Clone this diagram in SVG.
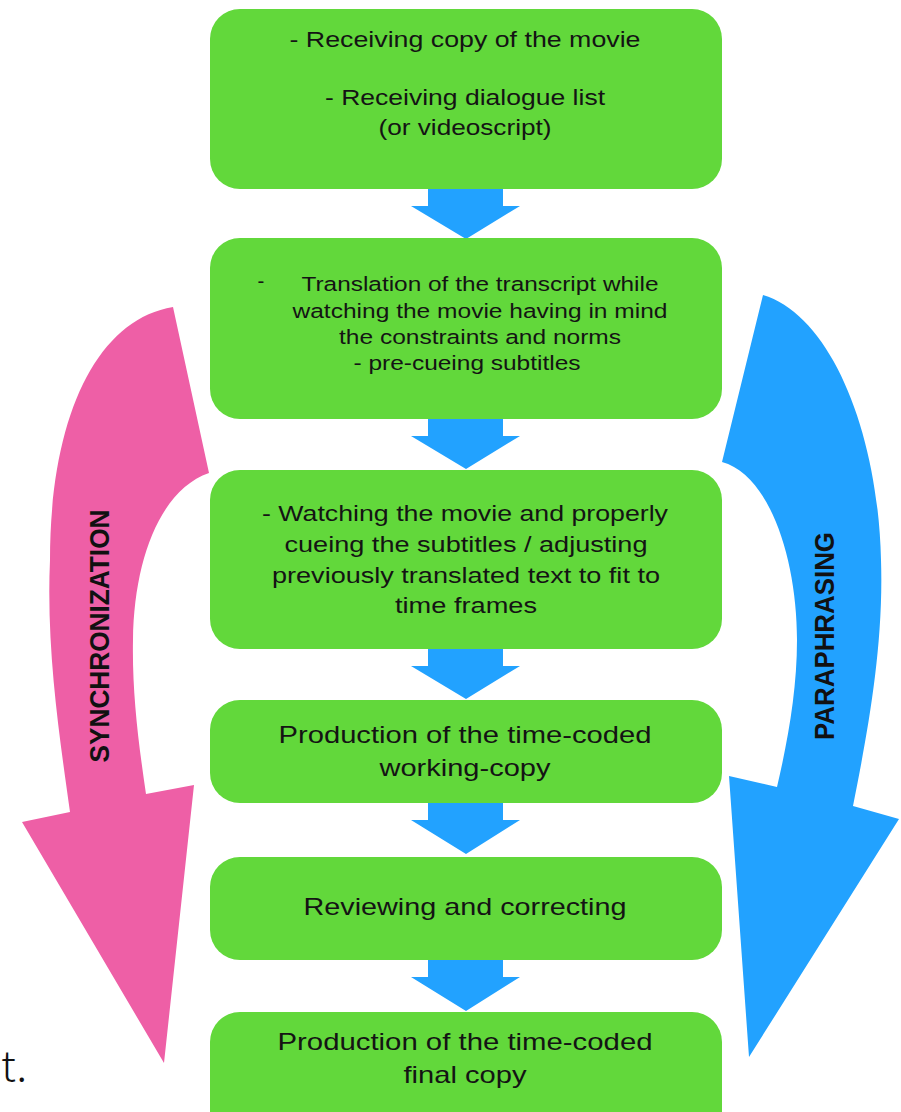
<svg xmlns="http://www.w3.org/2000/svg" width="901" height="1112" viewBox="0 0 901 1112">
<style>
.box{fill:#62d83b}
.t{font-family:"Liberation Sans",Arial,sans-serif;fill:#141414;text-anchor:middle;font-size:22px}
.t1{font-family:"Liberation Sans",Arial,sans-serif;fill:#141414;text-anchor:middle;font-size:20.5px}
.t3{font-family:"Liberation Sans",Arial,sans-serif;fill:#141414;text-anchor:middle;font-size:22.5px}
.t2{font-family:"Liberation Sans",Arial,sans-serif;fill:#141414;text-anchor:middle;font-size:24px}
.lbl{font-family:"Liberation Sans",Arial,sans-serif;font-weight:bold;fill:#111;text-anchor:middle;font-size:28px}
.conn{fill:#22a2ff}
</style>
<rect width="901" height="1112" fill="#fff"/>
<g id="synchronization">
<path d="M173,307 C95,320 50,420 50,560 C46,650 60,740 70,812 L22,822 L164,1063 L194,785 L146,794 C138,740 132,690 133,640 C134,560 160,490 209,473 Z" fill="#ee5fa6"/>
<text class="lbl" transform="translate(109,636) rotate(-90)" textLength="253" lengthAdjust="spacingAndGlyphs">SYNCHRONIZATION</text>
</g>
<g id="paraphrasing">
<path d="M763,295 C830,315 878,430 881,560 C884,650 866,740 853,806 L899,819 L749,1057 L729,776 L777,787 C788,740 797,690 797,640 C797,560 770,475 722,462 Z" fill="#22a2ff"/>
<text class="lbl" transform="translate(834,636) rotate(-90)" textLength="208" lengthAdjust="spacingAndGlyphs">PARAPHRASING</text>
</g>
<g id="connectors">
<path class="conn" d="M428,189 H503 V206 H520 L466,239 L411,206 H428 Z"/>
<path class="conn" d="M428,419 H503 V436 H520 L466,469 L411,436 H428 Z"/>
<path class="conn" d="M428,649 H503 V666 H520 L466,699 L411,666 H428 Z"/>
<path class="conn" d="M428,803 H503 V820 H520 L466,854 L411,820 H428 Z"/>
<path class="conn" d="M428,960 H503 V977 H520 L466,1011 L411,977 H428 Z"/>
</g>
<g id="node1">
<rect class="box" x="210" y="9" width="512" height="180" rx="30"/>
<text class="t" x="465" y="47" textLength="351" lengthAdjust="spacingAndGlyphs">- Receiving copy of the movie</text>
<text class="t" x="465" y="105" textLength="280" lengthAdjust="spacingAndGlyphs">- Receiving dialogue list</text>
<text class="t" x="465" y="135" textLength="173" lengthAdjust="spacingAndGlyphs">(or videoscript)</text>
</g>
<g id="node2">
<rect class="box" x="210" y="238" width="512" height="181" rx="30"/>
<text class="t1" x="261" y="288">-</text>
<text class="t1" x="480" y="291" textLength="357" lengthAdjust="spacingAndGlyphs">Translation of the transcript while</text>
<text class="t1" x="480" y="318" textLength="375" lengthAdjust="spacingAndGlyphs">watching the movie having in mind</text>
<text class="t1" x="480" y="344" textLength="282" lengthAdjust="spacingAndGlyphs">the constraints and norms</text>
<text class="t1" x="467" y="370" textLength="227" lengthAdjust="spacingAndGlyphs">- pre-cueing subtitles</text>
</g>
<g id="node3">
<rect class="box" x="210" y="470" width="512" height="179" rx="30"/>
<text class="t3" x="465" y="521" textLength="406" lengthAdjust="spacingAndGlyphs">- Watching the movie and properly</text>
<text class="t3" x="466" y="552" textLength="363" lengthAdjust="spacingAndGlyphs">cueing the subtitles / adjusting</text>
<text class="t3" x="466" y="583" textLength="388" lengthAdjust="spacingAndGlyphs">previously translated text to fit to</text>
<text class="t3" x="466" y="613" textLength="142" lengthAdjust="spacingAndGlyphs">time frames</text>
</g>
<g id="node4">
<rect class="box" x="210" y="700" width="512" height="103" rx="30"/>
<text class="t2" x="465" y="743" textLength="373" lengthAdjust="spacingAndGlyphs">Production of the time-coded</text>
<text class="t2" x="465" y="776" textLength="171" lengthAdjust="spacingAndGlyphs">working-copy</text>
</g>
<g id="node5">
<rect class="box" x="210" y="857" width="512" height="103" rx="30"/>
<text class="t2" x="465" y="915" textLength="323" lengthAdjust="spacingAndGlyphs">Reviewing and correcting</text>
</g>
<g id="node6">
<rect class="box" x="210" y="1012" width="512" height="130" rx="30"/>
<text class="t2" x="465" y="1050" textLength="375" lengthAdjust="spacingAndGlyphs">Production of the time-coded</text>
<text class="t2" x="465" y="1083" textLength="123" lengthAdjust="spacingAndGlyphs">final copy</text>
</g>
<text x="1" y="1081" style="font-family:'Noto Sans CJK JP','DejaVu Sans',sans-serif;font-size:42px;font-weight:300;fill:#111">t.</text>
</svg>
